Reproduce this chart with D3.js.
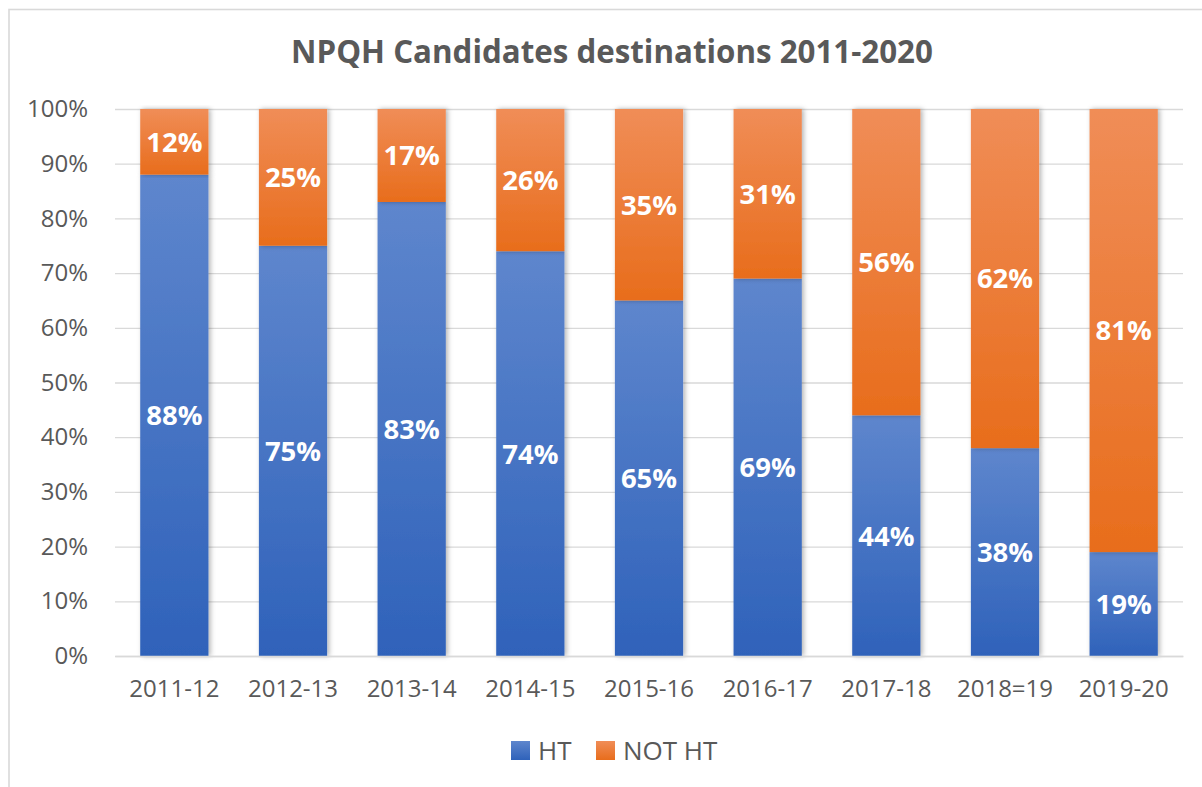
<!DOCTYPE html>
<html><head><meta charset="utf-8">
<script src="https://cdn.jsdelivr.net/npm/d3@7"></script>
<style>body{margin:0;background:#fff;}svg{display:block;}</style>
</head><body>
<svg id="c" width="1202" height="787"></svg>
<script>
const categories = ["2011-12","2012-13","2013-14","2014-15","2015-16","2016-17","2017-18","2018=19","2019-20"];
const htValues = [88,75,83,74,65,69,44,38,19];
const notHtValues = [12,25,17,26,35,31,56,62,81];
const seriesNames = ["HT","NOT HT"];
const yTicks = [0,10,20,30,40,50,60,70,80,90,100];
const title = "NPQH Candidates destinations 2011-2020";

const svg = d3.select("#c");
const font = "'Open Sans', 'DejaVu Sans', sans-serif";
const defs = svg.append("defs");
const gBlue = defs.append("linearGradient").attr("id","gBlue").attr("x1",0).attr("y1",0).attr("x2",0).attr("y2",1);
gBlue.append("stop").attr("offset","0%").attr("stop-color","#5E86CD");
gBlue.append("stop").attr("offset","100%").attr("stop-color","#2F62BA");
const gOr = defs.append("linearGradient").attr("id","gOr").attr("x1",0).attr("y1",0).attr("x2",0).attr("y2",1);
gOr.append("stop").attr("offset","0%").attr("stop-color","#F08D57");
gOr.append("stop").attr("offset","100%").attr("stop-color","#E86D1C");
const f = defs.append("filter").attr("id","sh").attr("x","-20%").attr("y","-5%").attr("width","140%").attr("height","110%");
f.append("feDropShadow").attr("dx",2).attr("dy",0).attr("stdDeviation",2.5).attr("flood-color","#000").attr("flood-opacity",0.3);

// outer border (right and bottom edges lie outside the view)
svg.append("rect").attr("x",9).attr("y",9.5).attr("width",1250).attr("height",850)
  .attr("fill","#fff").attr("stroke","#D9D9D9").attr("stroke-width",1.6);

const m = {left:115, right:1183, top:109, bottom:656};
const x = d3.scaleBand().domain(categories).range([m.left,m.right]).paddingInner(0.425).paddingOuter(0.2125);
const y = d3.scaleLinear().domain([0,100]).range([m.bottom,m.top]);

svg.append("text").attr("x",612).attr("y",63).attr("text-anchor","middle")
  .attr("font-family",font).attr("font-weight","bold").attr("font-size",31.3).attr("fill","#595959").text(title);

// gridlines
const yAxis = d3.axisLeft(y).tickValues(yTicks).tickFormat(d=>d+"%").tickSize(-(m.right-m.left)).tickPadding(27);
const ga = svg.append("g").attr("transform",`translate(${m.left},0)`).call(yAxis);
ga.select(".domain").remove();
ga.selectAll(".tick line").attr("stroke","#D9D9D9").attr("stroke-width",1.3);
ga.selectAll(".tick text").attr("font-family",font).attr("font-size",24).attr("fill","#595959");

const stackData = categories.map((c,i)=>({cat:c, HT:htValues[i], "NOT HT":notHtValues[i]}));
const stack = d3.stack().keys(seriesNames)(stackData);
const fills = {"HT":"url(#gBlue)","NOT HT":"url(#gOr)"};

const bars = svg.append("g");
stack.forEach(s=>{
  bars.selectAll(null).data(s).enter().append("rect")
    .attr("x",d=>x(d.data.cat)).attr("width",x.bandwidth())
    .attr("y",d=>y(d[1])).attr("height",d=>y(d[0])-y(d[1]))
    .attr("fill",fills[s.key]).attr("filter","url(#sh)");
});
stack.forEach(s=>{
  svg.append("g").selectAll(null).data(s).enter().append("text")
    .attr("x",d=>x(d.data.cat)+x.bandwidth()/2)
    .attr("y",d=>(y(d[0])+y(d[1]))/2)
    .attr("dy","0.36em").attr("text-anchor","middle")
    .attr("font-family",font).attr("font-weight","bold").attr("font-size",27.5).attr("fill","#fff")
    .text(d=>(d[1]-d[0])+"%");
});

const xAxis = d3.axisBottom(x).tickSize(0).tickPadding(24);
const gx = svg.append("g").attr("transform",`translate(0,${m.bottom})`).call(xAxis);
gx.select(".domain").attr("stroke","#D9D9D9").attr("stroke-width",1.3);
gx.selectAll(".tick text").attr("font-family",font).attr("font-size",24).attr("fill","#595959");

// legend
const leg = [{n:"HT",f:"url(#gBlue)",x:511},{n:"NOT HT",f:"url(#gOr)",x:596}];
leg.forEach(l=>{
  svg.append("rect").attr("x",l.x).attr("y",741).attr("width",19).attr("height",19).attr("fill",l.f);
  svg.append("text").attr("x",l.x+27).attr("y",751).attr("dy","0.36em")
    .attr("font-family",font).attr("font-size",26).attr("fill","#595959").text(l.n);
});
</script>
</body></html>
